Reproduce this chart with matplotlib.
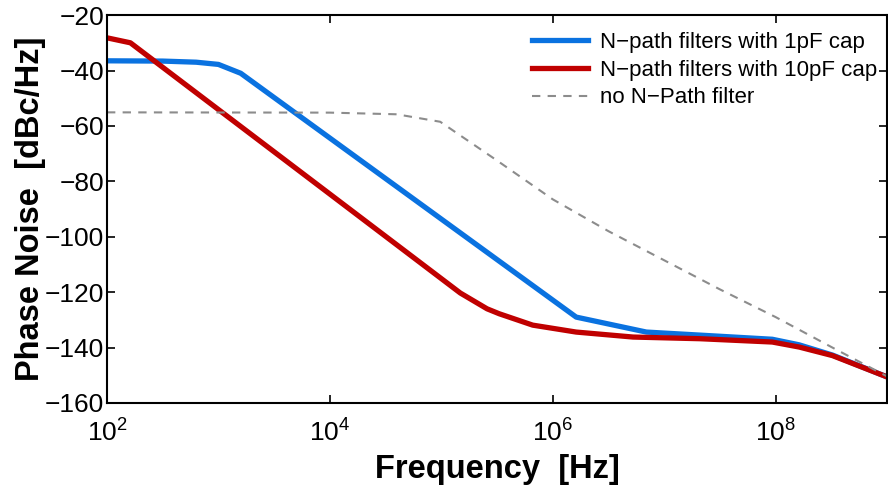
import numpy as np
import matplotlib as mpl
import matplotlib.pyplot as plt
from matplotlib.ticker import FixedLocator, LogFormatterMathtext, NullLocator

mpl.rc('font', family='Liberation Sans', size=16)
mpl.rc('mathtext', default='regular')
mpl.rc('figure', facecolor='w')

# log10(frequency) / phase noise [dBc/Hz]
blue_logf = [2.0, 2.5, 2.8, 3.0, 3.2, 6.21, 6.84, 7.32, 7.97, 8.21, 8.51, 9.0]
blue_pn = [-36.5, -36.6, -37.0, -37.8, -41.0, -129.0, -134.4, -135.5, -137.0, -139.0, -142.7, -150.6]

red_logf = [2.0, 2.21, 5.17, 5.41, 5.52, 5.82, 6.21, 6.72, 7.32, 7.97, 8.21, 8.51, 9.0]
red_pn = [-28.2, -30.0, -120.3, -126.0, -127.8, -131.9, -134.4, -136.2, -136.8, -138.0, -139.8, -142.9, -150.6]

gray_logf = [2.0, 4.0, 4.6, 4.99, 5.5, 6.0, 6.5, 7.0, 7.5, 8.0, 8.5, 9.0]
gray_pn = [-55.1, -55.2, -55.8, -58.5, -72.5, -86.5, -98.0, -108.5, -119.0, -129.0, -139.8, -150.4]

labels = ['N\u2212path filters with 1pF cap',
          'N\u2212path filters with 10pF cap',
          'no N\u2212Path filter']

fig = plt.figure(figsize=(8.88, 4.87), dpi=100)
ax = fig.add_axes([0.1205, 0.1725, 0.8785, 0.7965])

ax.semilogx(10**np.array(blue_logf), blue_pn, color='#0a72e0', lw=3.8, label=labels[0])
ax.semilogx(10**np.array(red_logf), red_pn, color='#c00000', lw=3.8, label=labels[1])
ax.semilogx(10**np.array(gray_logf), gray_pn, color='#8c8c8c', lw=1.5,
            ls=(0, (4, 3.5)), label=labels[2])

ax.set_xlim(1e2, 1e9)
ax.set_ylim(-160, -20)
ax.xaxis.set_major_locator(FixedLocator([1e2, 1e4, 1e6, 1e8]))
ax.xaxis.set_major_formatter(LogFormatterMathtext())
ax.xaxis.set_minor_locator(NullLocator())
ax.set_yticks(np.arange(-160, -19, 20))
ax.tick_params(direction='in', top=True, right=True, length=6, width=1.2,
               labelsize=19)
ax.tick_params(axis='y', pad=2)
ax.tick_params(axis='x', pad=12)
for s in ax.spines.values():
    s.set_linewidth(1.5)

ax.set_xlabel('Frequency  [Hz]', fontsize=23.5, fontweight='bold', labelpad=5)
ax.set_ylabel('Phase Noise  [dBc/Hz]', fontsize=23.5, fontweight='bold', labelpad=-1)

ax.legend(loc='upper right', bbox_to_anchor=(1.0, 0.982), frameon=False,
          fontsize=16, handlelength=2.5, borderaxespad=0.05,
          labelspacing=0.3, handletextpad=0.55)

plt.savefig('out.png', format='png')
